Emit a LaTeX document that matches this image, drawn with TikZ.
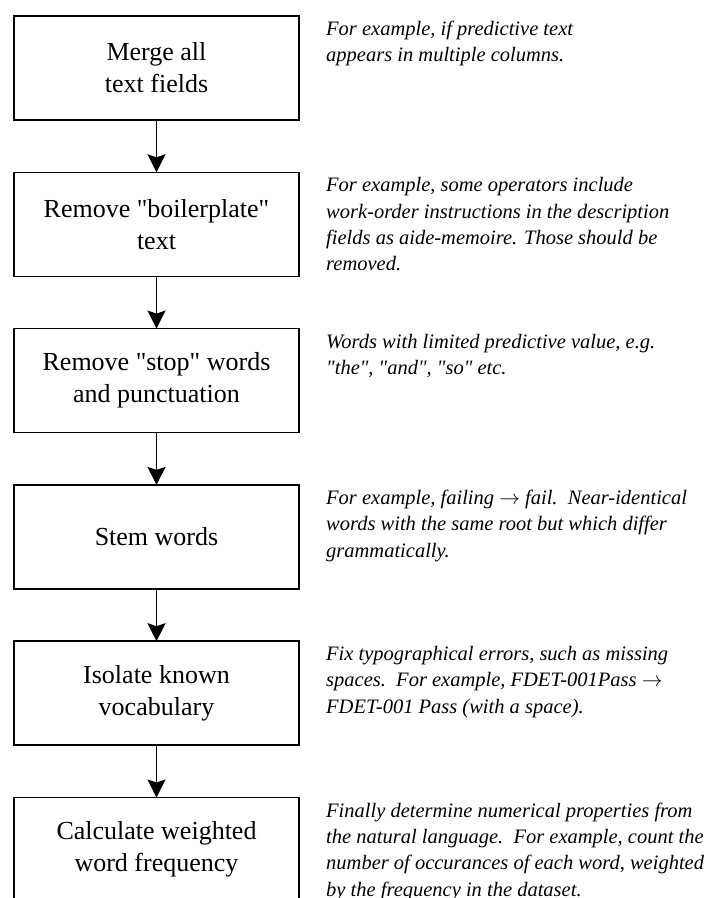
\documentclass[tikz,border=0pt]{standalone}
\usepackage{fontspec}
\setmainfont{Liberation Serif}[Ligatures=TeXOff]
\usetikzlibrary{arrows.meta, positioning}

\tikzset{
  stepbox/.style={draw, line width=1.6pt, minimum width=285pt, minimum height=104pt,
    align=center, inner sep=0pt, outer sep=0pt, font=\fontsize{26}{32}\selectfont},
  note/.style={anchor=north west, align=left, inner sep=0pt,
    font=\fontsize{20.5}{26.3}\selectfont\itshape},
  flow/.style={-{Stealth[length=18pt, width=18pt, inset=3pt]}, line width=1.6pt}
}

\begin{document}
\begin{tikzpicture}[x=1pt, y=-1pt]
\useasboundingbox (0,0) rectangle (710,898);

% merge
\node[stepbox] (merge) at (156.5,68) {Merge all\\text fields};
\node[note] (mergenote) at ([xshift=27pt, yshift=-5pt]merge.north east)
  {For example, if predictive text\\appears in multiple columns.};

% boilerplate
\node[stepbox, below=52.3pt of merge] (boiler) {Remove "boilerplate"\\text};
\node[note] (boilernote) at ([xshift=27pt, yshift=-5pt]boiler.north east)
  {For example, some operators include\\work-order instructions in the description\\fields as aide-memoire. Those should be\\removed.};

% stop words
\node[stepbox, below=52.3pt of boiler] (stop) {Remove "stop" words\\and punctuation};
\node[note] (stopnote) at ([xshift=27pt, yshift=-5pt]stop.north east)
  {Words with limited predictive value, e.g.\\"the", "and", "so" etc.};

% stem
\node[stepbox, below=52.3pt of stop] (stem) {Stem words};
\node[note] (stemnote) at ([xshift=27pt, yshift=-5pt]stem.north east)
  {For example, failing $\rightarrow$ fail.\ \ Near-identical\\words with the same root but which differ\\grammatically.};

% vocabulary
\node[stepbox, below=52.3pt of stem] (vocab) {Isolate known\\vocabulary};
\node[note] (vocabnote) at ([xshift=27pt, yshift=-5pt]vocab.north east)
  {Fix typographical errors, such as missing\\spaces.\ \ For example, FDET-001Pass $\rightarrow$\\FDET-001 Pass (with a space).};

% frequency
\node[stepbox, below=52.3pt of vocab] (freq) {Calculate weighted\\word frequency};
\node[note] (freqnote) at ([xshift=27pt, yshift=-5pt]freq.north east)
  {Finally determine numerical properties from\\the natural language.\ \ For example, count the\\number of occurances of each word, weighted\\by the frequency in the dataset.};

% arrows
\draw[flow] (merge) -- (boiler);
\draw[flow] (boiler) -- (stop);
\draw[flow] (stop) -- (stem);
\draw[flow] (stem) -- (vocab);
\draw[flow] (vocab) -- (freq);
\end{tikzpicture}
\end{document}
